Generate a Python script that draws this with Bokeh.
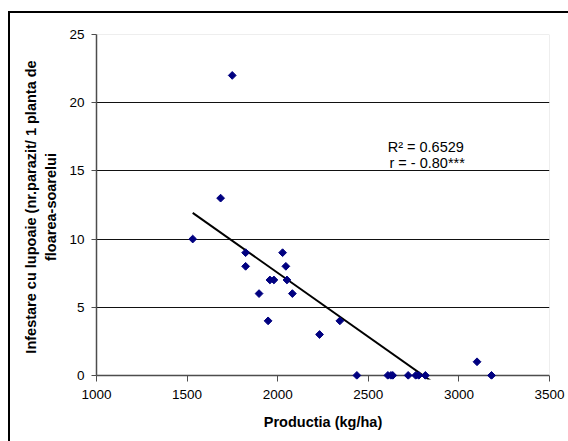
import numpy as np
from bokeh.plotting import figure
from bokeh.models import (ColumnDataSource, Label, BoxAnnotation, FixedTicker,
                          InlineStyleSheet, Span)
from bokeh.embed import file_html
from bokeh.resources import INLINE

# ---- data ----
productia = [1749, 1685, 1531, 1823, 1823, 1897, 1947, 1957, 1979, 2027,
             2045, 2051, 2081, 2231, 2343, 2437, 2608, 2625, 2635, 2720,
             2762, 2778, 2815, 3100, 3180]
infestare = [22, 13, 10, 9, 8, 6, 4, 7, 7, 9,
             8, 7, 6, 3, 4, 0, 0, 0, 0, 0,
             0, 0, 0, 1, 0]
x_ticks = [1000, 1500, 2000, 2500, 3000, 3500]
y_ticks = [0, 5, 10, 15, 20, 25]
grid_ticks = [5, 10, 15, 20]
r2_text = "R\u00b2 = 0.6529"
r_text = "r = - 0.80***"
x_title = "Productia (kg/ha)"
y_title = "Infestare cu lupoaie (nr.parazit/ 1 planta de\nfloarea-soarelui"

FONT = "Liberation Sans"
AXC = "#4d4d4d"

p = figure(width=568, height=441, x_range=(1000, 3500), y_range=(-0.3, 25),
           output_backend="svg", toolbar_location=None,
           min_border_left=96, min_border_right=19, min_border_top=34,
           min_border_bottom=62)
p.background_fill_color = "white"
p.border_fill_color = None
p.outline_line_color = None

p.stylesheets = [InlineStyleSheet(css="""
:host { position: relative; }
:host::after { content: ''; position: absolute; left: 8px; top: 11px;
  right: -20px; bottom: -20px; border-left: 2px solid #000; border-top: 2px solid #000;
  pointer-events: none; }
""")]

# plot area border (gray)
p.add_layout(BoxAnnotation(left=1000, right=3500, bottom=0, top=25,
                           fill_alpha=0, line_color="#8c8c8c", line_width=1,
                           level="underlay"))

# grid
p.xgrid.visible = False
p.ygrid.ticker = FixedTicker(ticks=grid_ticks)
p.ygrid.grid_line_color = "#111111"
p.ygrid.grid_line_width = 1

# x axis line at y = 0
p.add_layout(Span(location=0, dimension="width", line_color=AXC,
                  line_width=1.5, level="underlay"))

# axes
for ax in (p.xaxis[0], p.yaxis[0]):
    ax.axis_line_color = AXC
    ax.axis_line_width = 1.5
    ax.major_tick_line_color = AXC
    ax.minor_tick_line_color = None
    ax.major_label_text_font = FONT
    ax.major_label_text_font_size = "13.5px"
    ax.major_label_text_color = "#000000"
    ax.axis_label_text_font = FONT
    ax.axis_label_text_font_size = "14.5px"
    ax.axis_label_text_font_style = "bold"
    ax.axis_label_text_color = "#000000"

xa = p.xaxis[0]
xa.ticker = FixedTicker(ticks=x_ticks)
xa.axis_line_color = None
xa.major_tick_in = 4
xa.major_tick_out = 2
xa.major_label_standoff = 8
xa.axis_label = x_title
xa.axis_label_standoff = 12

ya = p.yaxis[0]
ya.ticker = FixedTicker(ticks=y_ticks)
ya.bounds = (0, 25)
ya.major_tick_in = 0
ya.major_tick_out = 5
ya.major_label_standoff = 7
ya.axis_label = y_title
ya.axis_label_standoff = 7
ya.axis_label_text_line_height = 1.25

# trend line (least squares from the data)
xs = np.array(productia, dtype=float)
ys = np.array(infestare, dtype=float)
slope, intercept = np.polyfit(xs, ys, 1)
tx = np.array([xs.min(), xs.max()])
p.line(tx, slope * tx + intercept, line_color="black", line_width=2)

src = ColumnDataSource(dict(x=productia, y=infestare))
p.scatter("x", "y", source=src, marker="square", size=5.5, angle=np.pi / 4,
          fill_color="#000080", line_color="#000080", line_width=1)

p.add_layout(Label(x=2607, y=16.75, text=r2_text, text_font=FONT,
                   text_font_size="14.5px", text_baseline="middle",
                   text_color="black"))
p.add_layout(Label(x=2617, y=15.55, text=r_text, text_font=FONT,
                   text_font_size="14.5px", text_baseline="middle",
                   text_color="black"))

open("out.html", "w").write(file_html(p, INLINE))
